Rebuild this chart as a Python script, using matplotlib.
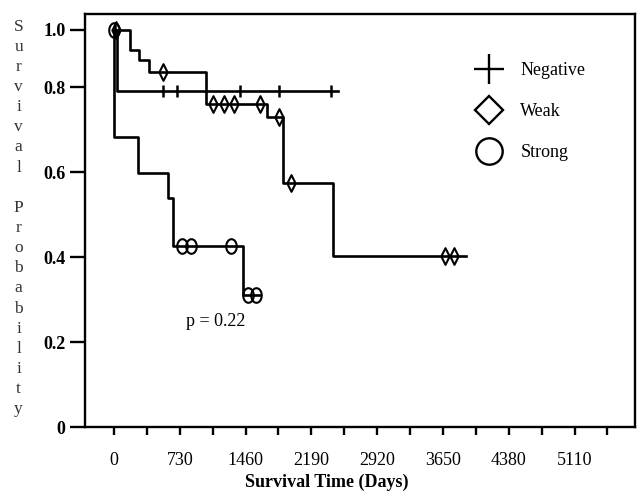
import numpy as np
import matplotlib
matplotlib.use("Agg")
import matplotlib.pyplot as plt
from matplotlib.lines import Line2D
from matplotlib.path import Path
from matplotlib.ticker import MultipleLocator, FuncFormatter

# Kaplan-Meier steps (days, survival after each event)
NEG_EVENT_DAYS = [30]
NEG_SURV = [0.79]
NEG_CENSOR_DAYS = [10, 540, 695, 1397, 1830, 2403]
NEG_END = 2484

WEAK_EVENT_DAYS = [177, 277, 391, 1017, 1693, 1871, 2425]
WEAK_SURV = [0.929, 0.896, 0.853, 0.760, 0.729, 0.575, 0.402]
WEAK_CENSOR_DAYS = [20, 540, 1101, 1223, 1334, 1619, 1830, 1960, 3671, 3771]
WEAK_END = 3904

STRONG_EVENT_DAYS = [5, 269, 602, 658, 1427]
STRONG_SURV = [0.682, 0.598, 0.538, 0.427, 0.311]
STRONG_CENSOR_DAYS = [0, 757, 854, 1294, 1483, 1575]
STRONG_END = 1620

Y_TICKS = [0, 0.2, 0.4, 0.6, 0.8, 1.0]
Y_TICK_LABELS = ["0", "0.2", "0.4", "0.6", "0.8", "1.0"]
P_TEXT = "p = 0.22"

SERIF = "Liberation Serif"
TOP_SQUEEZE = 0.675  # the original squeezes the 0.8-1.0 band


def _fwd(y):
    y = np.asarray(y, dtype=float)
    return np.where(y <= 0.8, y, 0.8 + (y - 0.8) * TOP_SQUEEZE)


def _inv(u):
    u = np.asarray(u, dtype=float)
    return np.where(u <= 0.8, u, 0.8 + (u - 0.8) / TOP_SQUEEZE)


def _step_xy(events, surv, end):
    xs = [0] + list(events) + [end]
    ys = [1.0] + list(surv) + [surv[-1]]
    return np.array(xs, float), np.array(ys, float)


def _surv_at(xs, ys, days):
    idx = np.searchsorted(xs, days, side="right") - 1
    return ys[np.clip(idx, 0, len(ys) - 1)]


theta = np.linspace(0, 2 * np.pi, 64)
TALL_CIRCLE = Path(np.column_stack([0.72 * np.cos(theta), np.sin(theta)]), closed=True)
TALL_DIAMOND = Path([(0, 1), (0.5, 0), (0, -1), (-0.5, 0), (0, 1)], closed=True)

fig = plt.figure(figsize=(6.42, 4.91), dpi=100)
ax = fig.add_axes([0.1324, 0.1303, 0.8566, 0.8412])
ax.set_yscale("function", functions=(_fwd, _inv))

groups = [
    (NEG_EVENT_DAYS, NEG_SURV, NEG_END, NEG_CENSOR_DAYS, "|", 9, 1.8),
    (WEAK_EVENT_DAYS, WEAK_SURV, WEAK_END, WEAK_CENSOR_DAYS, TALL_DIAMOND, 12, 1.5),
    (STRONG_EVENT_DAYS, STRONG_SURV, STRONG_END, STRONG_CENSOR_DAYS, TALL_CIRCLE, 10.5, 1.5),
]
for events, surv, end, censor, marker, msize, mew in groups:
    xs, ys = _step_xy(events, surv, end)
    ax.step(xs, ys, where="post", color="black", linewidth=1.9)
    cd = np.array(censor, float)
    ax.plot(cd, _surv_at(xs, ys, cd), linestyle="none", marker=marker,
            markersize=msize, markeredgewidth=mew, markeredgecolor="black",
            markerfacecolor="none")

ax.set_xlim(-322, 5780)
ax.set_ylim(0, 1.055)
ax.xaxis.set_major_locator(MultipleLocator(365))
ax.xaxis.set_major_formatter(FuncFormatter(lambda v, _p: f"{int(round(v))}" if round(v) % 730 == 0 else ""))
ax.set_yticks(Y_TICKS)
ax.set_yticklabels(Y_TICK_LABELS)

for sp in ax.spines.values():
    sp.set_linewidth(1.7)
ax.tick_params(axis="x", direction="out", length=6, width=1.7, pad=12, labelsize=13)
ax.tick_params(axis="y", direction="out", length=11, width=1.7, pad=3, labelsize=13)
for lab in ax.get_xticklabels():
    lab.set_fontfamily(SERIF)
for lab in ax.get_yticklabels():
    lab.set_fontfamily(SERIF)
    lab.set_fontweight("bold")

ax.set_xlabel("Survival Time (Days)", fontfamily=SERIF, fontweight="bold", fontsize=13)
ax.xaxis.set_label_coords(0.44, -0.112)

fig.text(0.029, 0.962, "\n".join(list("Survival Probability")), fontfamily=SERIF,
         fontsize=12.5, color="#333333", ha="center", va="top", linespacing=1.345)

ax.text(1130, 0.249, P_TEXT, fontfamily=SERIF, fontsize=13, ha="center", va="center")

handles = [
    Line2D([], [], linestyle="none", marker="+", markersize=21, markeredgewidth=1.7, color="black"),
    Line2D([], [], linestyle="none", marker="D", markersize=14, markeredgewidth=1.7,
           markeredgecolor="black", markerfacecolor="none"),
    Line2D([], [], linestyle="none", marker="o", markersize=19, markeredgewidth=1.7,
           markeredgecolor="black", markerfacecolor="none"),
]
ax.legend(handles, ["Negative", "Weak", "Strong"], loc="upper left",
          bbox_to_anchor=(0.672, 0.922), frameon=False, labelspacing=1.33,
          handletextpad=0.75, prop={"family": SERIF, "size": 13})

fig.savefig("out.png", dpi=100)
